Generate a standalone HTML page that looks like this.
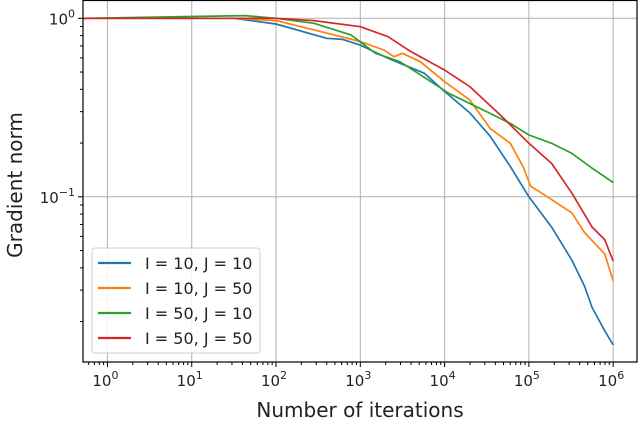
<!DOCTYPE html>
<html><head><meta charset="utf-8"><style>
body{margin:0;background:#fff;font-family:"Liberation Sans","DejaVu Sans",sans-serif}
svg text{font-family:"DejaVu Sans","Liberation Sans",sans-serif;fill:#222}
</style></head><body>
<svg id="c" width="640" height="419"></svg>
<script>
const xTickExps=[0,1,2,3,4,5,6];
const yTickExps=[0,-1];
const seriesNames=["I = 10, J = 10","I = 10, J = 50","I = 50, J = 10","I = 50, J = 50"];
const seriesColors=["#1f77b4","#ff7f0e","#2ca02c","#d62728"];
const blueX=[-0.29,1.5,2.0,2.6,2.79,3.0,3.33,3.76,4.0,4.3,4.54,4.78,5.0,5.27,5.51,5.66,5.75,5.9,6.0];
const blueY=[0,0,-0.032,-0.112,-0.118,-0.15,-0.224,-0.308,-0.41,-0.53,-0.66,-0.83,-1.0,-1.17,-1.355,-1.5,-1.62,-1.75,-1.83];
const orangeX=[-0.29,1.5,2.0,2.45,3.0,3.28,3.4,3.5,3.71,4.0,4.3,4.54,4.78,4.93,5.02,5.22,5.51,5.66,5.9,6.0];
const orangeY=[0,0,-0.013,-0.065,-0.13,-0.178,-0.215,-0.196,-0.243,-0.355,-0.458,-0.617,-0.70,-0.83,-0.94,-1.0,-1.09,-1.2,-1.32,-1.47];
const greenX=[-0.29,1.01,1.63,2.0,2.45,2.89,3.18,3.47,3.81,4.05,4.54,4.78,5.0,5.27,5.51,5.75,6.0];
const greenY=[0,0.01,0.015,0,-0.028,-0.093,-0.196,-0.243,-0.346,-0.42,-0.533,-0.589,-0.654,-0.70,-0.757,-0.84,-0.92];
const redX=[-0.29,2.0,2.45,3.0,3.33,3.57,4.0,4.3,4.68,5.0,5.27,5.51,5.75,5.9,6.0];
const redY=[0,0,-0.013,-0.047,-0.103,-0.178,-0.29,-0.383,-0.55,-0.70,-0.813,-0.98,-1.17,-1.24,-1.36];

const L=83,R=637,T=0,B=362;
const xMin=-0.29,xMax=(R-108)/84.2;
const yMax=18.3/178.5,yMin=-(B-18.3)/178.5;
const sx=v=>L+(v-xMin)/(xMax-xMin)*(R-L);
const sy=v=>T+(yMax-v)/(yMax-yMin)*(B-T);
const NS="http://www.w3.org/2000/svg";
const svg=document.getElementById("c");
function mk(tag,attrs,parent){const e=document.createElementNS(NS,tag);for(const k in attrs)e.setAttribute(k,attrs[k]);(parent||svg).appendChild(e);return e;}

xTickExps.forEach(e=>{const g=mk("line",{x1:sx(e),x2:sx(e),y1:T,y2:B,stroke:"#b0b0b0","stroke-width":1});

});
yTickExps.forEach(e=>{const g=mk("line",{x1:L,x2:R,y1:sy(e),y2:sy(e),stroke:"#b0b0b0","stroke-width":1});

});

const allX=[blueX,orangeX,greenX,redX],allY=[blueY,orangeY,greenY,redY];
[0,1,2,3].forEach(i=>{
  const d=allX[i].map((x,j)=>(j?"L":"M")+sx(x).toFixed(1)+","+sy(allY[i][j]).toFixed(1)).join("");
  const p=mk("path",{d:d,fill:"none",stroke:seriesColors[i],"stroke-width":1.7,"stroke-linejoin":"round"});
  
  
});

const fr=mk("rect",{x:L,y:T+0.5,width:R-L,height:B-T-0.5,fill:"none",stroke:"#000","stroke-width":1.2});



for(let e=-1;e<=6;e++){for(let m=1;m<10;m++){const v=e+Math.log10(m);if(v<xMin||v>xMax)continue;
  mk("line",{x1:sx(v),x2:sx(v),y1:B,y2:B+(m==1?5:3),stroke:"#000","stroke-width":1});}}
xTickExps.forEach(e=>{const t=mk("text",{x:sx(e)-2,y:B+24,"font-size":15,"text-anchor":"middle"});
t.textContent="10";const s=mk("tspan",{dy:-7,"font-size":11},t);s.textContent=String(e);

});
for(let e=-2;e<=0;e++){for(let m=1;m<10;m++){const v=e+Math.log10(m);if(v<yMin||v>yMax)continue;
  mk("line",{x1:L,x2:L-(m==1?5:3),y1:sy(v),y2:sy(v),stroke:"#000","stroke-width":1});}}
yTickExps.forEach(e=>{const t=mk("text",{x:L-8,y:sy(e)+6,"font-size":15,"text-anchor":"end"});
t.textContent="10";const s=mk("tspan",{dy:-7,"font-size":11},t);s.textContent=e==0?"0":"\u22121";

});

const xt=mk("text",{x:360,y:417,"font-size":20,"text-anchor":"middle"});xt.textContent="Number of iterations";


const yt=mk("text",{x:0,y:0,"font-size":20,"text-anchor":"middle",transform:"translate(22,185) rotate(-90)"});yt.textContent="Gradient norm";



const lg=mk("g",{});


mk("rect",{x:92,y:248,width:168,height:105,rx:3,fill:"#fff","fill-opacity":0.85,stroke:"#ccc"},lg);
seriesNames.forEach((n,i)=>{const y=263+i*25;
  const en=mk("g",{},lg);
  
  
  mk("line",{x1:98,x2:131,y1:y,y2:y,stroke:seriesColors[i],"stroke-width":2.2},en);
  const t=mk("text",{x:145,y:y+6,"font-size":16},en);t.textContent=n;});
</script>
</body></html>
